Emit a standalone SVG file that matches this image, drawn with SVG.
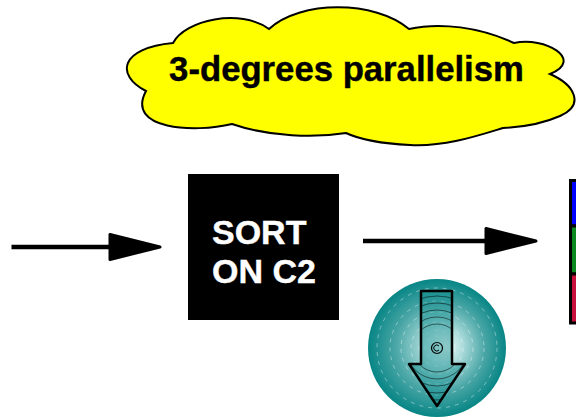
<svg xmlns="http://www.w3.org/2000/svg" width="576" height="417" viewBox="0 0 576 417">
<style>
.t{font-family:"Liberation Sans",Arial,sans-serif;font-weight:700;stroke-width:.4}
.c{stroke:#000;stroke-width:4.500;fill:none}
.h{fill:#000;stroke:#000;stroke-width:3;stroke-linejoin:round}
.bar{stroke:#000;stroke-width:3}
.r{fill:none;stroke:#fff;stroke-opacity:.4;stroke-width:1;stroke-dasharray:4 5}
.d{fill:none;stroke:#000;stroke-opacity:.5;stroke-width:1}
</style>
<defs>
<radialGradient id="g" gradientUnits="userSpaceOnUse" cx="437" cy="348" fx="446" fy="346" r="69">
<stop offset="0" stop-color="#e8f5f5"/><stop offset=".25" stop-color="#b4dfdf"/><stop offset=".65" stop-color="#4aa6a6"/><stop offset="1" stop-color="#078585"/>
</radialGradient>
<clipPath id="ac"><path d="M421 291H452V364H465L437 406L409 364H421Z"/></clipPath>
</defs>
<g id="cloud">
<path d="M173 43C185 20 240 8 269 29C300 0 375 0 409 29C440 22 480 27 514 43C545 36 585 60 550 74C575 85 585 105 560 116C542 124 525 127 503 128C480 135 445 147 410 145C390 144 365 142 346 133C315 138 270 137 232 124C195 133 125 130 146 91C115 75 120 48 173 43Z" fill="#ff0" stroke="#000" stroke-width="2" stroke-linejoin="miter"/>
<text class="t" x="346.500" y="81" font-size="34.700" text-anchor="middle" stroke="#000">3-degrees parallelism</text>
</g>
<g id="sort">
<rect x="188" y="174" width="151" height="146" fill="#000"/>
<text class="t" x="212" y="244" font-size="34" fill="#fff" stroke="#fff">SORT</text>
<text class="t" x="212" y="283" font-size="34" fill="#fff" stroke="#fff">ON C2</text>
</g>
<g id="connectors">
<line class="c" x1="11.500" y1="247" x2="112" y2="247"/>
<path class="h" d="M110 234.500V259.500L160 247Z"/>
<line class="c" x1="363" y1="241" x2="488" y2="241"/>
<path class="h" d="M486 228.500V253.500L536 241Z"/>
</g>
<g id="bars">
<rect class="bar" x="570.500" y="180.500" width="10" height="45.500" fill="#00f"/>
<rect class="bar" x="570.500" y="226" width="10" height="48" fill="#0a8a1e"/>
<rect class="bar" x="570.500" y="274" width="10" height="49" fill="#c8103c"/>
</g>
<g id="disk">
<circle cx="437" cy="348" r="69" fill="url(#g)"/>
<circle class="r" cx="437" cy="348" r="60"/><circle class="r" cx="437" cy="348" r="47"/><circle class="r" cx="437" cy="348" r="36"/><circle class="r" cx="437" cy="348" r="26"/><circle class="r" cx="437" cy="348" r="18"/><circle class="r" cx="437" cy="348" r="12"/>
<path d="M421 291H452V364H465L437 406L409 364H421Z" fill="#0b8a8a" fill-opacity=".42"/>
<g clip-path="url(#ac)">
<circle class="d" cx="437" cy="348" r="24"/><circle class="d" cx="437" cy="348" r="31"/><circle class="d" cx="437" cy="348" r="38"/><circle class="d" cx="437" cy="348" r="45"/><circle class="d" cx="437" cy="348" r="52"/>
</g>
<path d="M421 291H452V364H465L437 406L409 364H421Z" fill="none" stroke="#000" stroke-width="2.500" stroke-linejoin="round"/>
<circle cx="437" cy="348" r="5.500" fill="none" stroke="#000" stroke-width="1.200"/>
<path d="M439 346A3 3 0 1 0 439 350" fill="none" stroke="#000" stroke-width="1"/>
</g>
</svg>
